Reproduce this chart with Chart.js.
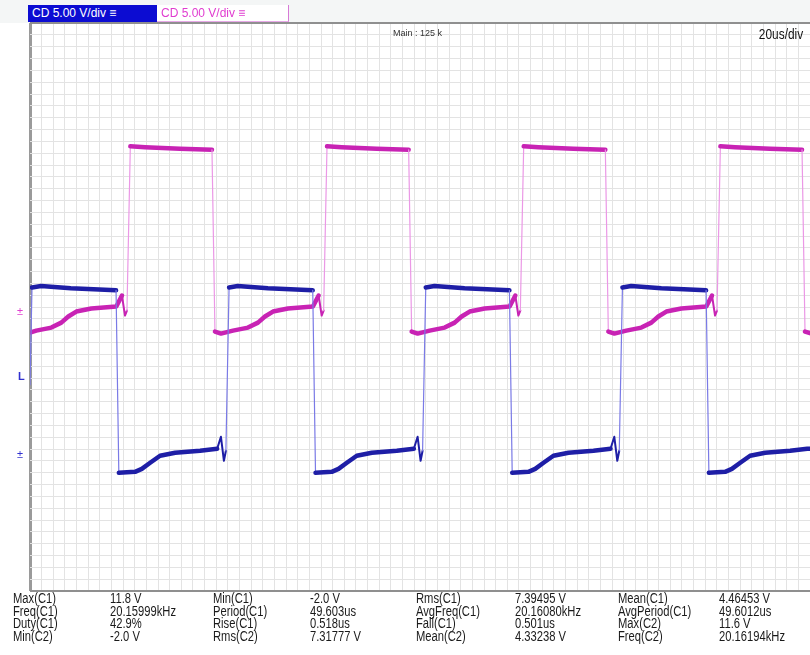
<!DOCTYPE html>
<html><head><meta charset="utf-8">
<script src="https://cdn.jsdelivr.net/npm/chart.js@4"></script>
<style>
html,body{margin:0;padding:0;background:#fff;}
#wrap{position:relative;width:810px;height:655px;overflow:hidden;background:#fff;font-family:"Liberation Sans",Arial,sans-serif;}
#hdr{position:absolute;left:0;top:0;width:810px;height:23px;background:#f4f6f6;}
#cv{position:absolute;left:0;top:0;}
.ch{position:absolute;top:5px;height:17px;font-size:12px;line-height:17px;white-space:nowrap;padding-left:4px;box-sizing:border-box;}
#ch1{left:28px;width:129px;background:#0c0cd2;color:#fff;}
#ch2{left:157px;width:132px;height:17px;background:#fff;color:#e03cd0;border-right:1px solid #d77ad7;border-bottom:1px solid #e8a8e8;}
#main{position:absolute;left:393px;top:28px;font-size:9px;color:#333;white-space:nowrap;}
#tdiv{position:absolute;right:7px;top:26px;font-size:14px;color:#111;transform:scaleX(0.85);transform-origin:right top;white-space:nowrap;}
.mk{position:absolute;font-size:11px;line-height:11px;white-space:nowrap;}
.ml{position:absolute;font-size:14px;line-height:13px;color:#1a1a1a;white-space:nowrap;transform:scaleX(0.8);transform-origin:left top;}
</style></head>
<body>
<div id="wrap">
  <div id="hdr"></div>
  <canvas id="cv" width="810" height="655"></canvas>
  <div id="ch1" class="ch"></div>
  <div id="ch2" class="ch"></div>
  <div id="main"></div>
  <div id="tdiv"></div>
  <div class="mk" style="left:17px;top:306px;color:#e040d0;">±</div>
  <div class="mk" style="left:18px;top:371px;color:#3030d0;font-weight:bold;">L</div>
  <div class="mk" style="left:17px;top:449px;color:#3030d0;">±</div>
  <div id="meas"></div>
</div>
<script>
// ---- header texts ----
const channelLabels = ["CD 5.00 V/div ≡", "CD 5.00 V/div ≡"];
const recordLabel = "Main : 125 k";
const timebaseLabel = "20us/div";

// ---- scales (µs, volts) ----
const timeSpanUs = 196.7;           // visible horizontal span
const c1Range = [-9.52, 30.47];     // CH1 axis (ground offset)
const c2Range = [-19.6, 20.38];     // CH2 axis (ground offset)

// ---- CH1 (blue) waveform ----
const c1TimeUs = [0.0, 0.5, 2.8, 10.3, 21.7,
  22.4, 26.5, 28.2, 30.3, 32.8, 36.6, 42.9, 47.2, 48.15, 48.9, 49.4, 50.2, 52.4, 60.0, 71.3,
  72.0, 76.1, 77.8, 79.9, 82.4, 86.2, 92.5, 96.8, 97.75, 98.5, 99.0, 99.8, 102.0, 109.6, 120.9,
  121.6, 125.7, 127.4, 129.5, 132.0, 135.8, 142.1, 146.4, 147.35, 148.1, 148.6, 149.4, 151.6, 159.2, 170.5,
  171.2, 175.3, 177.0, 179.1, 181.6, 185.4, 191.7, 196.0, 196.7];
const c1Volts = [5.0, 11.85, 11.95, 11.8, 11.65,
  -1.2, -1.13, -0.92, -0.49, 0.0, 0.21, 0.35, 0.49, 1.34, -0.35, 0.35, 11.85, 11.95, 11.8, 11.65,
  -1.2, -1.13, -0.92, -0.49, 0.0, 0.21, 0.35, 0.49, 1.34, -0.35, 0.35, 11.85, 11.95, 11.8, 11.65,
  -1.2, -1.13, -0.92, -0.49, 0.0, 0.21, 0.35, 0.49, 1.34, -0.35, 0.35, 11.85, 11.95, 11.8, 11.65,
  -1.2, -1.13, -0.92, -0.49, 0.0, 0.21, 0.35, 0.49, 0.5];

// ---- CH2 (magenta) waveform ----
const c2TimeUs = [0.0, 1.59, 5.38, 7.90, 9.66, 11.68, 15.46, 21.76, 23.19, 23.95, 24.45, 25.3, 28.99, 37.82, 45.89,
  46.64, 48.16, 51.18, 54.97, 57.49, 59.25, 61.27, 65.05, 71.35, 72.79, 73.55, 74.05, 74.9, 78.59, 87.42, 95.49,
  96.24, 97.76, 100.78, 104.57, 107.09, 108.85, 110.87, 114.65, 120.95, 122.39, 123.15, 123.65, 124.5, 128.19, 137.02, 145.09,
  145.84, 147.36, 150.38, 154.17, 156.69, 158.45, 160.47, 164.25, 170.55, 171.99, 172.75, 173.25, 174.1, 177.79, 186.62, 194.69,
  195.44, 196.7];
const c2Volts = [-1.41, -1.27, -1.06, -0.71, -0.28, 0.07, 0.28, 0.42, 1.2, -0.21, 0.14, 11.7, 11.64, 11.53, 11.46,
  -1.34, -1.48, -1.27, -1.06, -0.71, -0.28, 0.07, 0.28, 0.42, 1.2, -0.21, 0.14, 11.7, 11.64, 11.53, 11.46,
  -1.34, -1.48, -1.27, -1.06, -0.71, -0.28, 0.07, 0.28, 0.42, 1.2, -0.21, 0.14, 11.7, 11.64, 11.53, 11.46,
  -1.34, -1.48, -1.27, -1.06, -0.71, -0.28, 0.07, 0.28, 0.42, 1.2, -0.21, 0.14, 11.7, 11.64, 11.53, 11.46,
  -1.34, -1.45];

// ---- measurement table ----
const measNames = ["Max(C1)", "Min(C1)", "Rms(C1)", "Mean(C1)",
  "Freq(C1)", "Period(C1)", "AvgFreq(C1)", "AvgPeriod(C1)",
  "Duty(C1)", "Rise(C1)", "Fall(C1)", "Max(C2)",
  "Min(C2)", "Rms(C2)", "Mean(C2)", "Freq(C2)"];
const measValues = ["11.8 V", "-2.0 V", "7.39495 V", "4.46453 V",
  "20.15999kHz", "49.603us", "20.16080kHz", "49.6012us",
  "42.9%", "0.518us", "0.501us", "11.6 V",
  "-2.0 V", "7.31777 V", "4.33238 V", "20.16194kHz"];

// ---- grid divisions ----
const gridCols = 67;
const gridRows = 48;

document.getElementById('ch1').textContent = channelLabels[0];
document.getElementById('ch2').textContent = channelLabels[1];
document.getElementById('main').textContent = recordLabel;
document.getElementById('tdiv').textContent = timebaseLabel;

const labelX = [13, 213, 416, 618];
const valueX = [110, 310, 515, 719];
const rowY = [592, 605, 617, 630];
const meas = document.getElementById('meas');
measNames.forEach((n, i) => {
  const r = Math.floor(i / 4), c = i % 4;
  const a = document.createElement('div');
  a.className = 'ml'; a.style.left = labelX[c] + 'px'; a.style.top = rowY[r] + 'px'; a.textContent = n;
  meas.appendChild(a);
  const b = document.createElement('div');
  b.className = 'ml'; b.style.left = valueX[c] + 'px'; b.style.top = rowY[r] + 'px'; b.textContent = measValues[i];
  meas.appendChild(b);
});

const toPts = (t, v) => t.map((x, i) => ({x: x, y: v[i]}));
const dyOf = c => Math.abs(c.p1.y - c.p0.y);
const slopeOf = c => dyOf(c) / Math.max(0.1, Math.abs(c.p1.x - c.p0.x));
const segWidth = c => dyOf(c) > 40 ? 1.2 : (slopeOf(c) > 2 ? 2 : 4.5);

new Chart(document.getElementById('cv'), {
  type: 'line',
  data: {
    datasets: [
      {label: 'C1', data: toPts(c1TimeUs, c1Volts), xAxisID: 'x', yAxisID: 'y1',
       borderColor: '#1e1ea6', borderWidth: 4.5, pointRadius: 0, tension: 0,
       borderCapStyle: 'round', borderJoinStyle: 'round',
       segment: {borderColor: c => dyOf(c) > 40 ? '#7a7ae6' : '#1e1ea6', borderWidth: segWidth}},
      {label: 'C2', data: toPts(c2TimeUs, c2Volts), xAxisID: 'x', yAxisID: 'y2',
       borderColor: '#c823b4', borderWidth: 4.5, pointRadius: 0, tension: 0,
       borderCapStyle: 'round', borderJoinStyle: 'round',
       segment: {borderColor: c => dyOf(c) > 40 ? '#eb98e6' : '#c823b4', borderWidth: segWidth}}
    ]
  },
  options: {
    responsive: false, animation: false, devicePixelRatio: 1,
    layout: {padding: {left: 30, top: 23, right: 0, bottom: 64}},
    plugins: {legend: {display: false}, tooltip: {enabled: false}},
    scales: {
      gx: {type: 'linear', axis: 'x', position: 'bottom', min: 0, max: gridCols,
        ticks: {display: false, stepSize: 1},
        grid: {drawTicks: false, color: c => c.index === 0 ? '#9a9a9a' : '#e3e3e3', lineWidth: c => c.index === 0 ? 3 : 1},
        border: {display: false}},
      gy: {type: 'linear', axis: 'y', position: 'left', min: 0, max: gridRows,
        ticks: {display: false, stepSize: 1},
        grid: {drawTicks: false, color: c => (c.index === 0 || c.index === gridRows) ? '#8f8f8f' : '#e3e3e3',
               lineWidth: c => (c.index === 0 || c.index === gridRows) ? 2 : 1},
        border: {display: false}},
      x: {type: 'linear', min: 0, max: timeSpanUs, display: false},
      y1: {type: 'linear', min: c1Range[0], max: c1Range[1], display: false},
      y2: {type: 'linear', min: c2Range[0], max: c2Range[1], display: false}
    }
  }
});
</script>
</body></html>
